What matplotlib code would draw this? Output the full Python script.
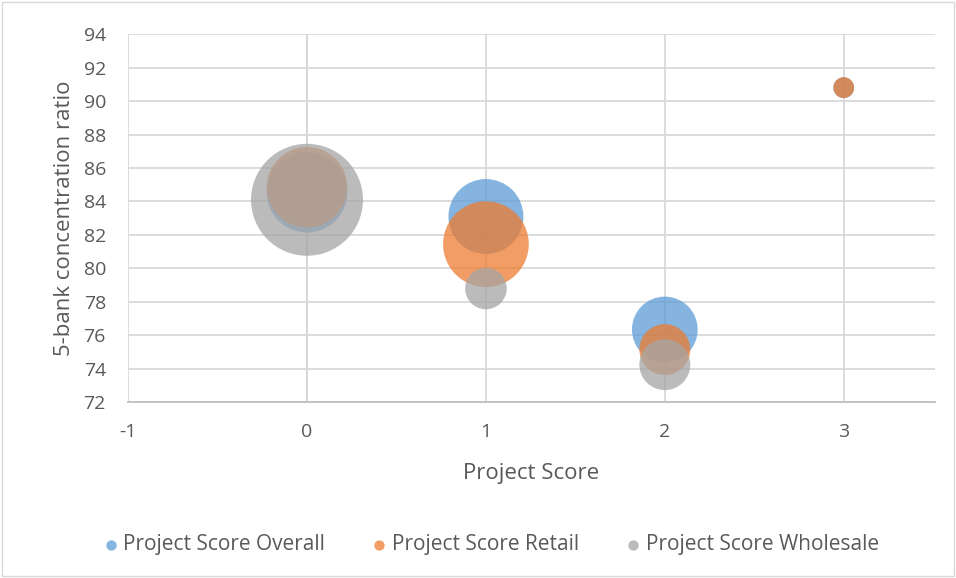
import numpy as np
import matplotlib.pyplot as plt
from matplotlib.patches import Rectangle

plt.rcParams['font.family'] = ['Open Sans', 'DejaVu Sans']
plt.rcParams['axes.unicode_minus'] = False

# bubble chart data: x = project score, y = 5-bank concentration ratio, size = bubble weight
overall_x = [0, 1, 2, 3]
overall_y = [84.55, 83.1, 76.35, 90.8]
overall_s = [15, 13, 10, 1]

retail_x = [0, 1, 2, 3]
retail_y = [84.85, 81.45, 75.15, 90.8]
retail_s = [15, 17, 6, 1]

wholesale_x = [0, 1, 2]
wholesale_y = [84.1, 78.8, 74.25]
wholesale_s = [29, 4, 6]

series = [("Project Score Overall", overall_x, overall_y, overall_s, '#5B9BD5'),
          ("Project Score Retail", retail_x, retail_y, retail_s, '#ED7D31'),
          ("Project Score Wholesale", wholesale_x, wholesale_y, wholesale_s, '#A5A5A5')]

txt = '#595959'
scale = 224  # points^2 per size unit

fig = plt.figure(figsize=(9.56, 5.78), dpi=100)
ax = fig.add_axes([0.134, 0.304, 0.844, 0.637])

for name, x, y, s, c in series:
    ax.scatter(x, y, s=np.array(s) * scale, color=c, alpha=0.75, linewidths=0,
               label=name, zorder=3)

ax.set_xlim(-1, 3.51)
ax.set_ylim(72, 94)
ax.set_xticks([-1, 0, 1, 2, 3])
ax.set_yticks(np.arange(72, 95, 2))
ax.grid(True, color='#D9D9D9', lw=1.3, zorder=0)
ax.axvline(0, color='#BFBFBF', lw=1.3, zorder=1)
for sp in ['top', 'right', 'left']:
    ax.spines[sp].set_visible(False)
ax.spines['bottom'].set_color('#BFBFBF')
ax.spines['bottom'].set_linewidth(1.3)
ax.tick_params(length=0, labelsize=14, labelcolor=txt)
ax.tick_params(axis='y', pad=16)
ax.tick_params(axis='x', pad=15)
ax.set_xlabel('Project Score', fontsize=16, color=txt, labelpad=16)
ax.set_ylabel('5-bank concentration ratio', fontsize=16, color=txt, labelpad=6)

leg = fig.legend(loc='center', bbox_to_anchor=(0.511, 0.058), ncol=3, frameon=False,
                 fontsize=15, labelcolor=txt, markerscale=0.1, handletextpad=0.0,
                 handlelength=1.2, columnspacing=2.0)
for h in leg.legend_handles:
    h.set_sizes([55])

fig.patches.append(Rectangle((0.002, 0.003), 0.996, 0.994, transform=fig.transFigure,
                             fill=False, edgecolor='#D9D9D9', lw=1))

fig.savefig('out.png', dpi=100)
